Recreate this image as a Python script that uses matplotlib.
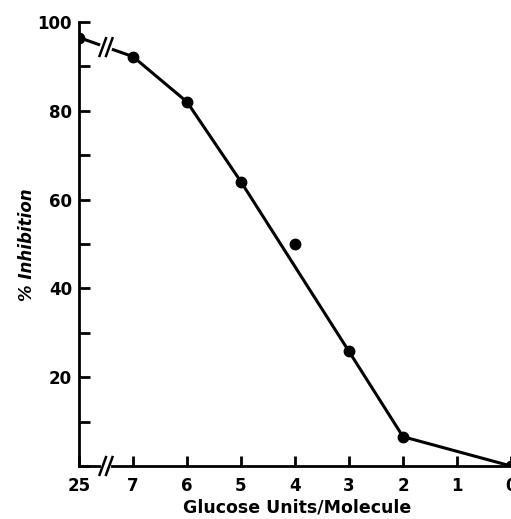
import matplotlib
matplotlib.use("Agg")
import matplotlib.pyplot as plt
import matplotlib.transforms as mt
from matplotlib.ticker import MultipleLocator

# Data
tick_labels = ["25", "7", "6", "5", "4", "3", "2", "1", "0"]
tick_pos = [8, 7, 6, 5, 4, 3, 2, 1, 0]          # categorical positions (25 sits beyond the break)
line_x = [8, 7, 6, 5, 3, 2, 0]
line_y = [96.5, 92.2, 82.0, 64.0, 25.8, 6.6, 0.0]
extra_x = [4]
extra_y = [50.0]

plt.rcParams['font.family'] = ['DejaVu Sans']
fig = plt.figure(figsize=(5.11, 5.19), dpi=100)
ax = fig.add_axes([79/511, 1-466/519, 1-79/511, (466-22)/519])

ax.plot(line_x, line_y, color='black', lw=2.2, zorder=2)
ax.plot(line_x, line_y, 'o', color='black', ms=7.5, zorder=3)
ax.plot(extra_x, extra_y, 'o', color='black', ms=7.5, zorder=3)

ax.set_xlim(8, 0)
ax.set_ylim(0, 100)
for s in ['top', 'right']:
    ax.spines[s].set_visible(False)
for s in ['left', 'bottom']:
    ax.spines[s].set_linewidth(2.0)

ax.set_xticks(tick_pos)
ax.set_xticklabels(tick_labels)
ax.set_yticks([20, 40, 60, 80, 100])
ax.yaxis.set_minor_locator(MultipleLocator(10))
ax.tick_params(axis='both', which='both', direction='in', width=2.0, labelsize=12)
ax.tick_params(axis='x', which='major', length=7, pad=8)
ax.tick_params(axis='y', which='major', length=8, pad=5)
ax.tick_params(axis='y', which='minor', length=8)
for lab in ax.get_xticklabels() + ax.get_yticklabels():
    lab.set_fontweight('bold')

# break marks ("//") between 25 and 7
bx = (tick_pos[0] + tick_pos[1]) / 2
def slash(xc, yc_axes=None, yc_data=None):
    for dx in (-0.06, 0.06):
        if yc_data is not None:
            ax.plot([xc + dx + 0.06, xc + dx - 0.06], [yc_data - 2.0, yc_data + 2.0],
                    color='black', lw=1.8, clip_on=False, zorder=5)
        else:
            trans = mt.blended_transform_factory(ax.transData, ax.transAxes)
            ax.plot([xc + dx + 0.06, xc + dx - 0.06], [yc_axes - 0.02, yc_axes + 0.02],
                    color='black', lw=1.8, transform=trans, clip_on=False, zorder=5)

ax.plot([bx + 0.06, bx - 0.06], [0, 0], color='white', lw=3,
        transform=mt.blended_transform_factory(ax.transData, ax.transAxes), clip_on=False, zorder=4)
slash(bx, yc_axes=0.0)
yb = line_y[0] + (line_y[1] - line_y[0]) * (line_x[0] - bx) / (line_x[0] - line_x[1])
ax.plot([bx + 0.06, bx - 0.06], [yb + 0.3, yb - 0.3], color='white', lw=4, zorder=4)
slash(bx, yc_data=yb)

ax.set_xlabel("Glucose Units/Molecule", fontsize=12.5, fontweight='bold')
ax.xaxis.set_label_coords((297 - 79) / 432, (466 - 508) / 444)
ax.xaxis.label.set_va('center')
ax.set_ylabel("% Inhibition", fontsize=12, fontweight='bold', style='italic')
ax.yaxis.set_label_coords((27 - 79) / 432, (466 - 245) / 444)
ax.yaxis.label.set_va('center')

fig.savefig("out.png", dpi=100)
